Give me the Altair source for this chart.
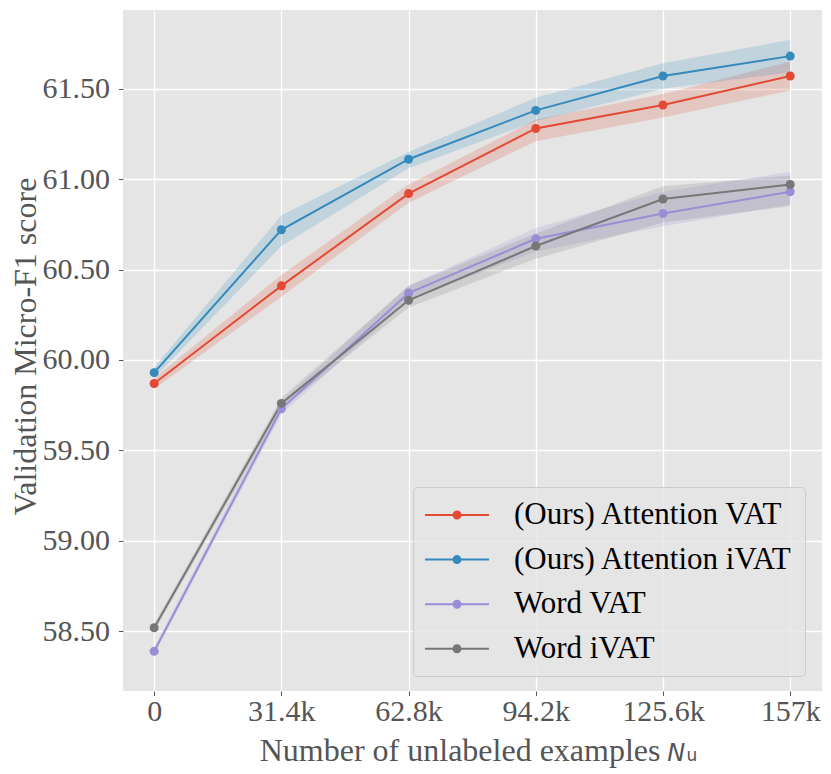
import altair as alt
import pandas as pd

steps = ["0", "31.4k", "62.8k", "94.2k", "125.6k", "157k"]
series_names = ["(Ours) Attention VAT", "(Ours) Attention iVAT", "Word VAT", "Word iVAT"]
series_colors = ["#E24A33", "#348ABD", "#988ED5", "#777777"]

att_vat = [59.87, 60.41, 60.92, 61.28, 61.41, 61.57]
att_vat_lo = [59.84, 60.35, 60.87, 61.21, 61.34, 61.49]
att_vat_hi = [59.90, 60.47, 60.97, 61.33, 61.47, 61.65]

att_ivat = [59.93, 60.72, 61.11, 61.38, 61.57, 61.68]
att_ivat_lo = [59.90, 60.63, 61.06, 61.32, 61.50, 61.59]
att_ivat_hi = [59.96, 60.80, 61.15, 61.45, 61.64, 61.77]

word_vat = [58.39, 59.73, 60.37, 60.67, 60.81, 60.93]
word_vat_lo = [58.37, 59.70, 60.33, 60.60, 60.74, 60.86]
word_vat_hi = [58.41, 59.77, 60.41, 60.73, 60.93, 61.04]

word_ivat = [58.52, 59.76, 60.33, 60.63, 60.89, 60.97]
word_ivat_lo = [58.50, 59.73, 60.29, 60.56, 60.76, 60.85]
word_ivat_hi = [58.54, 59.79, 60.41, 60.70, 60.96, 61.02]

y_ticks = [58.5, 59.0, 59.5, 60.0, 60.5, 61.0, 61.5]
x_title = "Number of unlabeled examples"
sym_main = ["N"]
sym_sub = ["u"]

means = [att_vat, att_ivat, word_vat, word_ivat]
lows = [att_vat_lo, att_ivat_lo, word_vat_lo, word_ivat_lo]
highs = [att_vat_hi, att_ivat_hi, word_vat_hi, word_ivat_hi]

rows = []
for name, m, lo, hi in zip(series_names, means, lows, highs):
    for i in range(len(steps)):
        rows.append({"series": name, "idx": i, "score": m[i], "lo": lo[i], "hi": hi[i]})
df = pd.DataFrame(rows)

label_expr = "[" + ",".join("'" + s + "'" for s in steps) + "][datum.value]"

xscale = alt.Scale(domain=[-0.245, 5.25], nice=False, zero=False)
yscale = alt.Scale(domain=[58.17, 61.935], nice=False, zero=False)
cscale = alt.Scale(domain=series_names, range=series_colors)

x_axis = alt.Axis(values=list(range(len(steps))), labelExpr=label_expr, title=x_title,
                  titleX=537, titleY=69.5, titleAlign="right", titleBaseline="alphabetic",
                  titleFontSize=32, labelPadding=1)
y_axis = alt.Axis(values=y_ticks, format=".2f", title="Validation Micro-F1 score",
                  titleFontSize=32, labelPadding=9, titleX=-88, titleY=336,
                  titleBaseline="alphabetic")

leg_path = ("M-2.133,0L2.133,0"
            "M-0.05,0A0.05,0.05,0,1,0,0.05,0A0.05,0.05,0,1,0,-0.05,0Z"
            "M-0.15,0A0.15,0.15,0,1,0,0.15,0A0.15,0.15,0,1,0,-0.15,0Z"
            "M-0.233,0A0.233,0.233,0,1,0,0.233,0A0.233,0.233,0,1,0,-0.233,0Z")

legend = alt.Legend(title=None, orient="none", legendX=290, legendY=477,
                    symbolType=leg_path, symbolSize=900, symbolStrokeWidth=2,
                    symbolOffset=16, labelOffset=41, labelFont="Liberation Serif",
                    labelFontSize=31, labelColor="black", rowPadding=13.6, padding=12,
                    fillColor="rgba(229,229,229,0.8)", strokeColor="#cccccc",
                    cornerRadius=4, labelLimit=0, symbolOpacity=1)

base = alt.Chart(df)

line = base.mark_line(strokeWidth=2).encode(
    x=alt.X("idx:Q", scale=xscale, axis=x_axis),
    y=alt.Y("score:Q", scale=yscale, axis=y_axis),
    color=alt.Color("series:N", scale=cscale, legend=legend),
)

band = base.mark_area(opacity=0.2).encode(
    x=alt.X("idx:Q", scale=xscale),
    y=alt.Y("lo:Q", scale=yscale),
    y2="hi:Q",
    color=alt.Color("series:N", scale=cscale, legend=legend),
)

pts = base.mark_circle(size=81, opacity=1).encode(
    x=alt.X("idx:Q", scale=xscale),
    y=alt.Y("score:Q", scale=yscale),
    color=alt.Color("series:N", scale=cscale, legend=legend),
)

n_text = alt.Chart(pd.DataFrame({"t": sym_main})).mark_text(
    font="DejaVu Sans", fontStyle="italic", fontSize=24, align="left",
    baseline="alphabetic", color="#555555"
).encode(text="t:N", x=alt.value(544.3), y=alt.value(750.5))

u_text = alt.Chart(pd.DataFrame({"t": sym_sub})).mark_text(
    font="DejaVu Sans", fontSize=17, align="left",
    baseline="alphabetic", color="#555555"
).encode(text="t:N", x=alt.value(563.5), y=alt.value(751.3))

chart = alt.layer(band, line, pts, n_text, u_text).properties(
    width=699, height=681,
    autosize=alt.AutoSizeParams(type="none"),
    padding={"left": 115, "top": 2, "right": 0, "bottom": 80},
).configure_view(
    fill="#E5E5E5", strokeWidth=0
).configure_axis(
    grid=True, gridColor="white", gridWidth=1.3, domain=False,
    tickColor="#555555", tickSize=4.5, tickWidth=1,
    labelFont="Liberation Serif", labelFontSize=30, labelColor="#555555",
    titleFont="Liberation Serif", titleColor="#555555", titleFontWeight="normal",
)

chart.save("out.html", embed_options={"renderer": "svg", "actions": False})
